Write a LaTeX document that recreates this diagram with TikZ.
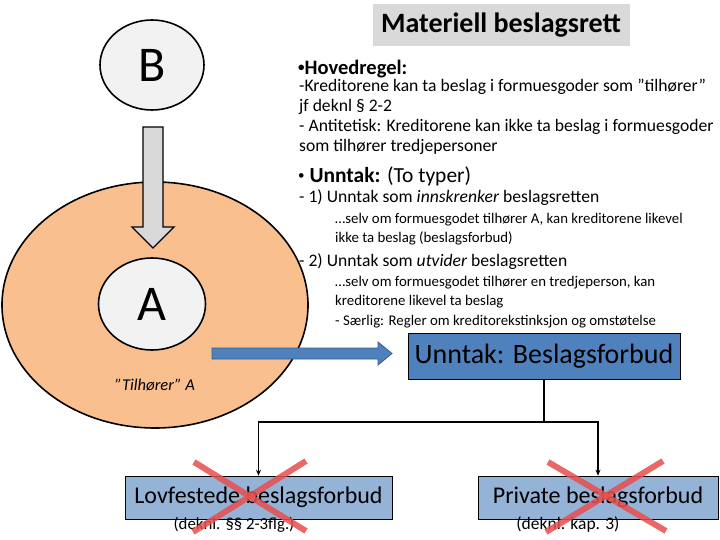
\documentclass[tikz,border=0pt]{standalone}
\usepackage{fontspec}
\setmainfont{Carlito}
\definecolor{ownorange}{RGB}{250, 191, 143}
\definecolor{perslight}{RGB}{242, 242, 242}
\definecolor{titlegray}{RGB}{217, 217, 217}
\definecolor{fbblue}{RGB}{79, 129, 189}
\definecolor{fbedge}{RGB}{56, 93, 138}
\definecolor{subblue}{RGB}{149, 179, 215}
\definecolor{crossred}{RGB}{232, 78, 78}
\usetikzlibrary{shapes.geometric, arrows.meta, positioning, calc}
\newcommand{\smbul}{{\fontsize{13}{13}\selectfont\raisebox{3pt}{•}}}

\begin{document}
\begin{tikzpicture}[x=1pt, y=-1pt,
  pers/.style={ellipse, draw, line width=1.6pt, fill=perslight, inner sep=0pt,
               font=\fontsize{50}{54}\selectfont},
  fbbox/.style={draw, line width=0.6pt, inner sep=0pt, align=center},
  ln/.style={anchor=base west, inner sep=0pt, font=\fontsize{17.6}{20}\selectfont},
  sub/.style={anchor=base west, inner sep=0pt, font=\fontsize{14.8}{17}\selectfont},
  xline/.style={crossred, line width=6pt, opacity=0.85},
]
\useasboundingbox (0,0) rectangle (720,540);
\clip (0,0) rectangle (720,540);

% the ownership area of A
\node[ellipse, draw, line width=1.6pt, fill=ownorange, minimum width=306,
      minimum height=246] (own) at (155,305) {};
\node[pers, minimum width=104, minimum height=90] (b) at (152,65) {B};
\node[pers, minimum width=107, minimum height=92] (a) at (152,304) {A};
\node[font=\itshape\fontsize{16.5}{18}\selectfont] (tilh) at (155,385) {”Tilhører” A};

% block arrow B -> A
\draw[line width=1.4pt, fill=titlegray]
  (143,127) -- (163,127) -- (163,227) -- (174,227) -- (153,248)
  -- (132,227) -- (143,227) -- cycle;

% title
\node[fill=titlegray, minimum width=257, minimum height=42,
      font=\bfseries\fontsize{28}{32}\selectfont] (title) at (501,25) {Materiell beslagsrett};

% rules text
\node[ln, font=\bfseries\fontsize{20.5}{22}\selectfont] (hoved) at (298,75) {\smbul Hovedregel:};
\node[ln] (h1) at (299,92) {-Kreditorene kan ta beslag i formuesgoder som ”tilhører”};
\node[ln] (h2) at (299,112) {jf deknl § 2-2};
\node[ln] (h3) at (299,132) {- Antitetisk: Kreditorene kan ikke ta beslag i formuesgoder};
\node[ln] (h4) at (299,152) {som tilhører tredjepersoner};
\node[ln, font=\fontsize{21.5}{24}\selectfont] (unnt) at (298,183) {\smbul\ \textbf{Unntak:} (To typer)};
\node[ln] (u1) at (299,203) {- 1) Unntak som \textit{innskrenker} beslagsretten};
\node[sub] (u1a) at (335,223) {…selv om formuesgodet tilhører A, kan kreditorene likevel};
\node[sub] (u1b) at (335,242) {ikke ta beslag (beslagsforbud)};
\node[ln] (u2) at (299,266) {- 2) Unntak som \textit{utvider} beslagsretten};
\node[sub] (u2a) at (335,286) {…selv om formuesgodet tilhører en tredjeperson, kan};
\node[sub] (u2b) at (335,305) {kreditorene likevel ta beslag};
\node[sub] (u2c) at (335,325) {- Særlig: Regler om kreditorekstinksjon og omstøtelse};

% block arrow own area -> forbud
\draw[line width=0.8pt, draw=fbedge, fill=fbblue]
  (212,348) -- (378,348) -- (378,342) -- (392,353.5) -- (378,365)
  -- (378,359) -- (212,359) -- cycle;

% beslagsforbud tree
\node[fbbox, fill=fbblue, minimum width=272, minimum height=46,
      font=\fontsize{28}{32}\selectfont] (fb) at (544,356) {Unntak: Beslagsforbud};
\node[fbbox, fill=subblue, minimum width=267, minimum height=43,
      font=\fontsize{24}{28}\selectfont] (lov) at (258.5,497.5) {Lovfestede beslagsforbud};
\node[fbbox, fill=subblue, minimum width=240, minimum height=43,
      font=\fontsize{24}{28}\selectfont] (priv) at (598,497.5) {Private beslagsforbud};
\node[font=\fontsize{16.8}{19}\selectfont] (lovref) at (234,525) {(deknl. §§ 2-3flg.)};
\node[font=\fontsize{17.5}{19}\selectfont] (privref) at (568,525) {(deknl. kap. 3)};

\coordinate (fork) at (544,422);
\draw[line width=1.2pt] (fb) -- (fork);
\draw[line width=1.2pt, -{Stealth[length=6pt, width=5pt]}] (fork) -| (lov);
\draw[line width=1.2pt, -{Stealth[length=6pt, width=5pt]}] (fork) -| (priv);

% struck out
\draw[xline] (194,462) -- (306,531);
\draw[xline] (306,461) -- (193,532);
\draw[xline] (548,462) -- (666,531);
\draw[xline] (663,461) -- (546,532);
\end{tikzpicture}
\end{document}
